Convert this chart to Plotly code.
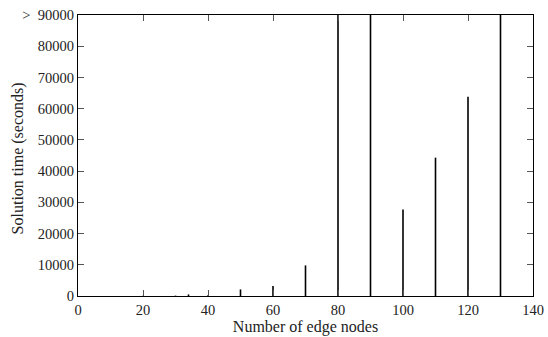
import plotly.graph_objects as go

# Data (number of edge nodes -> solution time in seconds; 90000 means "> 90000")
edge_nodes = [10, 20, 30, 34, 40, 50, 60, 70, 80, 90, 100, 110, 120, 130]
solution_time = [20, 60, 120, 500, 250, 2100, 3200, 9800, 90000, 90000, 27700, 44300, 63800, 90000]

x_ticks = [0, 20, 40, 60, 80, 100, 120, 140]
y_ticks = [0, 10000, 20000, 30000, 40000, 50000, 60000, 70000, 80000, 90000]
y_tick_labels = ["0", "10000", "20000", "30000", "40000", "50000", "60000", "70000", "80000", ">\u200290000"]

x_title = "Number of edge nodes"
y_title = "Solution time (seconds)"

# Build impulse segments from the data
xs, ys = [], []
for xv, yv in zip(edge_nodes, solution_time):
    xs += [xv, xv, None]
    ys += [0, yv, None]

fig = go.Figure()
fig.add_trace(go.Scatter(x=xs, y=ys, mode="lines",
                         line=dict(color="black", width=1.6),
                         showlegend=False, hoverinfo="skip"))

font_family = "Liberation Serif, DejaVu Serif, serif"
W, H = 548, 337
L, R, T, B = 78, 14.5, 15, 41
fig.update_layout(
    width=W, height=H,
    margin=dict(l=L, r=R, t=T, b=B),
    paper_bgcolor="white", plot_bgcolor="white",
    font=dict(family=font_family, size=14.5, color="#222"),
    showlegend=False,
)
fig.update_xaxes(
    range=[0, 140], tickvals=x_ticks, ticks="inside", ticklen=6, tickwidth=1,
    tickcolor="#555", automargin=False, ticklabeloverflow="allow",
    showline=True, linecolor="black", linewidth=1.4, mirror="ticks",
    showgrid=False, zeroline=False,
    title=dict(text=x_title, font=dict(size=16), standoff=0),
)
fig.update_yaxes(
    range=[0, 90000], tickvals=y_ticks, ticktext=y_tick_labels,
    ticks="inside", ticklen=6, tickwidth=1, tickcolor="#555", automargin=False,
    ticklabeloverflow="allow",
    showline=True, linecolor="black", linewidth=1.4, mirror="ticks",
    showgrid=False, zeroline=False,
)
plot_w = W - L - R
fig.add_annotation(
    text=y_title, textangle=-90, showarrow=False,
    xref="paper", yref="paper", x=(18 - L) / plot_w, y=0.49,
    xanchor="center", yanchor="middle", font=dict(size=16),
)

fig.write_html(
    "out.html",
    config={"displayModeBar": False},
    post_script="document.body.style.margin='0';document.body.style.overflow='hidden';",
)
